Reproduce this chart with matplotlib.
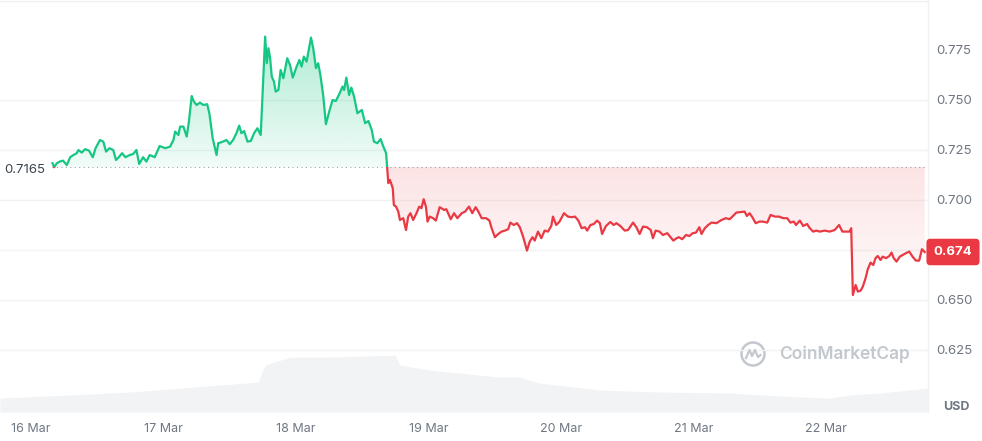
import numpy as np
import matplotlib
matplotlib.use('Agg')
from matplotlib import pyplot as plt
from matplotlib.path import Path
from matplotlib.patches import Rectangle, Circle
from matplotlib.lines import Line2D
from matplotlib.colors import to_rgb
import matplotlib.transforms as mtransforms

# hours since 16 Mar 00:00 and price in USD
HOURS = [
    3.9, 4.2, 4.7, 5.2, 5.8, 6.5, 7.1, 7.7, 8.3, 8.6,
    9.2, 9.8, 10.5, 11.2, 11.7, 12.5, 13.1, 13.6, 14.2, 14.9,
    15.4, 15.9, 16.5, 17.1, 17.9, 18.5, 19.1, 19.6, 20.3, 20.9,
    21.5, 22.4, 23.3, 24.3, 25.2, 25.8, 26.1, 26.7, 27.0, 27.6,
    28.2, 28.6, 29.1, 29.5, 30.0, 30.6,
    31.2, 31.9, 32.3, 32.9, 33.6, 33.9, 34.5, 35.4, 36.0, 36.6,
    37.2, 37.7, 38.1, 38.6, 39.2, 39.8, 40.4, 41.0, 41.6, 42.4,
    42.7, 43.0, 43.3, 43.6, 44.0, 44.3, 44.8, 45.2, 45.7, 46.4,
    46.9, 47.4, 48.1, 48.6, 49.0, 49.4, 49.9, 50.7, 51.1, 51.6,
    52.0, 52.4, 52.9, 53.4, 54.0, 54.6, 55.2, 55.9, 56.4, 56.7,
    57.1, 57.6, 58.0, 58.5, 59.1, 59.9, 60.5, 61.1, 61.7, 62.1,
    62.7, 63.3, 63.8, 64.3, 64.5,
    64.7, 65.0, 65.5, 65.7, 66.1, 66.5, 66.8, 67.4, 67.9, 68.3,
    68.7, 69.2, 69.8, 70.3, 70.7, 71.1, 71.5, 71.8, 72.2, 72.8,
    73.3, 74.0, 74.8, 75.2, 76.0, 76.6, 77.2, 78.0, 78.6, 79.3,
    79.9, 80.5, 81.0, 81.6, 82.4, 83.0, 83.4, 84.0, 84.6, 85.2,
    85.8, 86.4, 86.8, 87.4, 88.0, 88.5, 89.1, 89.8, 90.3, 90.8,
    91.2, 91.8, 92.4, 93.0, 93.6,
    94.2, 94.5, 95.1, 95.7, 96.5, 97.2, 97.9, 98.5, 99.1, 99.7,
    100.3, 100.7, 101.3, 101.9, 102.5, 103.0, 103.4, 104.1, 104.9, 105.5,
    106.0, 106.7, 107.5, 108.1, 109.0, 109.6, 110.2, 110.8, 111.5, 112.2,
    112.6, 113.1, 113.8, 114.4, 115.2, 115.7, 116.3, 116.9, 117.3, 117.9,
    118.6, 119.2, 119.8, 120.4, 121.0, 121.4, 122.0, 122.6, 123.2, 124.1,
    125.0, 125.8,
    126.5, 127.1, 127.7, 128.6, 129.2, 129.6, 130.1, 130.6, 131.2, 131.9,
    132.5, 133.3, 133.9, 134.7, 135.4, 136.2, 136.9, 137.5, 138.1, 138.5,
    139.2, 139.8, 140.5, 141.0, 141.6, 142.2, 142.8, 143.7, 144.6, 145.5,
    146.3, 146.9, 147.6, 148.2, 148.5, 148.8, 149.3, 149.7, 150.2, 150.6,
    151.1, 151.5, 152.0, 152.5, 152.9, 153.3, 153.8, 154.2, 154.8, 155.4,
    155.8, 156.2, 156.7, 157.3, 157.8, 158.4, 159.0, 159.6, 160.2, 160.8,
    161.3, 161.8,
]

PRICES = [
    0.7184, 0.7164, 0.7184, 0.7192, 0.7197, 0.7175, 0.7214, 0.7225, 0.7234, 0.7250,
    0.7237, 0.7254, 0.7247, 0.7214, 0.7259, 0.7300, 0.7292, 0.7242, 0.7259, 0.7250,
    0.7200, 0.7214, 0.7234, 0.7214, 0.7225, 0.7230, 0.7250, 0.7180, 0.7214, 0.7192,
    0.7225, 0.7214, 0.7270, 0.7259, 0.7267, 0.7300, 0.7342, 0.7325, 0.7367, 0.7367,
    0.7317, 0.7392, 0.7520, 0.7492, 0.7475, 0.7487,
    0.7475, 0.7479, 0.7434, 0.7309, 0.7225, 0.7284, 0.7289, 0.7300, 0.7279, 0.7300,
    0.7334, 0.7372, 0.7334, 0.7345, 0.7292, 0.7295, 0.7334, 0.7359, 0.7325, 0.7817,
    0.7684, 0.7759, 0.7709, 0.7617, 0.7592, 0.7542, 0.7550, 0.7650, 0.7609, 0.7709,
    0.7675, 0.7612, 0.7667, 0.7700, 0.7667, 0.7717, 0.7692, 0.7812, 0.7759, 0.7659,
    0.7684, 0.7625, 0.7525, 0.7379, 0.7442, 0.7500, 0.7495, 0.7534, 0.7567, 0.7550,
    0.7612, 0.7525, 0.7562, 0.7517, 0.7434, 0.7450, 0.7384, 0.7395, 0.7350, 0.7292,
    0.7284, 0.7305, 0.7267, 0.7234, 0.7159,
    0.7084, 0.7100, 0.7059, 0.6975, 0.6967, 0.6942, 0.6900, 0.6909, 0.6850, 0.6917,
    0.6934, 0.6900, 0.6934, 0.6967, 0.6959, 0.7004, 0.6967, 0.6892, 0.6917, 0.6909,
    0.6897, 0.6964, 0.6950, 0.6954, 0.6904, 0.6934, 0.6909, 0.6934, 0.6942, 0.6967,
    0.6934, 0.6964, 0.6942, 0.6909, 0.6909, 0.6897, 0.6859, 0.6814, 0.6830, 0.6842,
    0.6847, 0.6854, 0.6887, 0.6875, 0.6884, 0.6864, 0.6817, 0.6747, 0.6792, 0.6814,
    0.6797, 0.6842, 0.6809, 0.6847, 0.6842,
    0.6870, 0.6917, 0.6875, 0.6892, 0.6934, 0.6917, 0.6914, 0.6917, 0.6897, 0.6859,
    0.6864, 0.6847, 0.6875, 0.6880, 0.6897, 0.6884, 0.6830, 0.6870, 0.6890, 0.6875,
    0.6884, 0.6870, 0.6847, 0.6850, 0.6887, 0.6864, 0.6830, 0.6867, 0.6864, 0.6850,
    0.6809, 0.6847, 0.6842, 0.6825, 0.6834, 0.6817, 0.6797, 0.6809, 0.6814, 0.6804,
    0.6825, 0.6820, 0.6834, 0.6837, 0.6864, 0.6830, 0.6859, 0.6875, 0.6887, 0.6884,
    0.6900, 0.6909,
    0.6904, 0.6920, 0.6937, 0.6940, 0.6942, 0.6920, 0.6934, 0.6914, 0.6884, 0.6892,
    0.6892, 0.6887, 0.6925, 0.6917, 0.6917, 0.6909, 0.6909, 0.6887, 0.6892, 0.6875,
    0.6897, 0.6870, 0.6880, 0.6859, 0.6842, 0.6847, 0.6842, 0.6847, 0.6842, 0.6850,
    0.6875, 0.6842, 0.6842, 0.6842, 0.6859, 0.6525, 0.6575, 0.6542, 0.6547, 0.6567,
    0.6609, 0.6654, 0.6687, 0.6675, 0.6709, 0.6720, 0.6700, 0.6717, 0.6709, 0.6720,
    0.6737, 0.6709, 0.6692, 0.6717, 0.6725, 0.6734, 0.6742, 0.6717, 0.6697, 0.6697,
    0.6754, 0.6740,
]

# traded volume (relative units), background area
VOL_HOURS = [-5.6, 7.1, 17.9, 29.7, 41.1, 42.4, 46.9, 54.1, 65.9, 66.8,
             72.2, 77.6, 84.9, 88.5, 92.1, 103.0, 113.8, 126.5, 139.2, 144.6,
             148.2, 153.7, 162.4]
VOLUMES = [14, 17, 20, 25, 30, 47, 55, 55, 57, 47,
           42, 39, 35, 35, 29, 22, 20, 19, 15, 14,
           17, 19, 24]

BASE_PRICE = 0.7165
DAY_TICKS = [0, 24, 48, 72, 96, 120, 144]
DAY_LABELS = ['16 Mar', '17 Mar', '18 Mar', '19 Mar', '20 Mar', '21 Mar', '22 Mar']
# 0.675 sits under the current-price tag, so it is not labelled
PRICE_TICKS = [0.625, 0.650, 0.700, 0.725, 0.750, 0.775]
GRID_LEVELS = [0.625, 0.650, 0.675, 0.700, 0.725, 0.750]

GREEN = '#16c784'
RED = '#ea3943'
TEXT = '#6f7782'

plt.rcParams['font.family'] = ['Inter', 'DejaVu Sans']


def gradient_fill(ax, x, y, base, color, a_top, a_bottom, above):
    if above:
        where = y >= base
    else:
        where = y <= base
    poly = ax.fill_between(x, y, base, where=where, interpolate=True,
                           facecolor='none', edgecolor='none')
    path = Path.make_compound_path(*poly.get_paths())
    if above:
        lo, hi = base, y.max()
    else:
        lo, hi = y.min(), base
    img = np.zeros((200, 1, 4))
    img[:, :, :3] = to_rgb(color)
    img[:, 0, 3] = np.linspace(a_top, a_bottom, 200)
    im = ax.imshow(img, extent=[x.min(), x.max(), lo, hi], aspect='auto',
                   origin='upper', zorder=1, interpolation='bilinear')
    im.set_clip_path(path, transform=ax.transData)


def main():
    x = np.array(HOURS)
    y = np.array(PRICES)
    assert len(x) == len(y)

    fig = plt.figure(figsize=(9.82, 4.41), dpi=100)
    ax = fig.add_axes([0, 29 / 441, 928 / 982, 411 / 441])
    ax_vol = ax.twinx()
    ax.set_zorder(ax_vol.get_zorder() + 1)
    ax.patch.set_visible(False)

    xlim = (-5.6, 162.4)
    ylim = (0.594, 0.7995)

    # volume
    ax_vol.fill_between(VOL_HOURS, VOLUMES, 0, color='#f1f3f5', lw=0)
    ax_vol.set_ylim(0, 412)
    ax_vol.set_yticks([])
    for s in ax_vol.spines.values():
        s.set_visible(False)

    # grid
    for lvl in GRID_LEVELS:
        ax.axhline(lvl, color='#f1f2f4', lw=1, zorder=0)

    gradient_fill(ax, x, y, BASE_PRICE, GREEN, 0.34, 0.06, True)
    gradient_fill(ax, x, y, BASE_PRICE, RED, 0.14, 0.02, False)

    ax.hlines(BASE_PRICE, x[0], xlim[1], colors='#9aa0a8', lw=0.8,
              linestyles=(0, (1, 3)), zorder=2)

    top_clip = Rectangle((xlim[0] - 10, BASE_PRICE), 200, 1, transform=ax.transData)
    bot_clip = Rectangle((xlim[0] - 10, BASE_PRICE - 1), 200, 1, transform=ax.transData)
    l1, = ax.plot(x, y, color=GREEN, lw=1.6, zorder=3, solid_joinstyle='round')
    l1.set_clip_path(top_clip)
    l2, = ax.plot(x, y, color=RED, lw=1.6, zorder=3, solid_joinstyle='round')
    l2.set_clip_path(bot_clip)

    ax.set_xlim(*xlim)
    ax.set_ylim(*ylim)

    ax.set_xticks(DAY_TICKS)
    ax.set_xticklabels(DAY_LABELS)
    ax.yaxis.tick_right()
    ax.set_yticks(PRICE_TICKS)
    ax.set_yticklabels([f'{t:.3f}' for t in PRICE_TICKS])
    ax.tick_params(axis='x', length=0, pad=8, labelsize=9, labelcolor=TEXT)
    ax.tick_params(axis='y', length=0, pad=6, labelsize=9.5, labelcolor=TEXT)

    for name, s in ax.spines.items():
        s.set_visible(name in ('top', 'right'))
        s.set_color('#eef0f3')
        s.set_linewidth(1)

    blend = mtransforms.blended_transform_factory(ax.transAxes, ax.transData)
    ax.text(0.005, BASE_PRICE - 0.0015, f'{BASE_PRICE:.4f}', transform=blend,
            ha='left', va='center', fontsize=9.5, color='#3d4450', zorder=4)
    ax.text(953 / 928, y[-1], f'{y[-1]:.3f}', transform=blend, ha='center',
            va='center', fontsize=9.5, fontweight='bold', color='white',
            clip_on=False, zorder=10,
            bbox=dict(boxstyle='round,pad=0.55,rounding_size=0.3', fc=RED, ec='none'))

    fig.text(956 / 982, 1 - 407 / 441, 'USD', ha='center', va='center',
             fontsize=9, fontweight='bold', color=TEXT)

    # watermark
    fig.text(845 / 982, 1 - 354 / 441, 'CoinMarketCap', ha='center', va='center',
             fontsize=12.5, fontweight='semibold', color='#c3c8cf')
    cx, cy = 7.53, 4.41 - 3.54
    fig.add_artist(Circle((cx, cy), 0.115, transform=fig.dpi_scale_trans,
                          fill=False, ec='#c3c8cf', lw=1.8))
    fig.add_artist(Line2D([cx - 0.07, cx - 0.035, cx - 0.01, cx + 0.02, cx + 0.05, cx + 0.075],
                          [cy - 0.04, cy + 0.04, cy - 0.02, cy + 0.04, cy - 0.03, cy - 0.01],
                          transform=fig.dpi_scale_trans, color='#c3c8cf', lw=1.6))

    fig.savefig('out.png', dpi=100)


if __name__ == '__main__':
    main()
